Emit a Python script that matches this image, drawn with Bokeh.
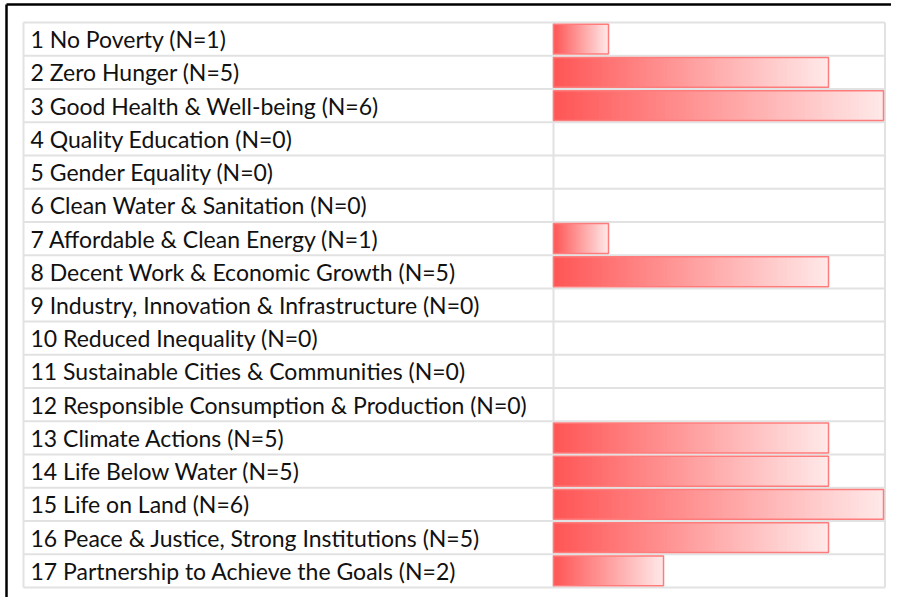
from bokeh.plotting import figure
from bokeh.models import Range1d
from bokeh.embed import file_html
from bokeh.resources import INLINE
from bokeh.core.properties import value

goals = [
    "1 No Poverty", "2 Zero Hunger", "3 Good Health & Well-being",
    "4 Quality Education", "5 Gender Equality", "6 Clean Water & Sanitation",
    "7 Affordable & Clean Energy", "8 Decent Work & Economic Growth",
    "9 Industry, Innovation & Infrastructure", "10 Reduced Inequality",
    "11 Sustainable Cities & Communities", "12 Responsible Consumption & Production",
    "13 Climate Actions", "14 Life Below Water", "15 Life on Land",
    "16 Peace & Justice, Strong Institutions", "17 Partnership to Achieve the Goals",
]
counts = [1, 5, 6, 0, 0, 0, 1, 5, 0, 0, 0, 0, 5, 5, 6, 5, 2]

W, H = 891, 597
OFF = 0
# pixel layout helpers
PX_PER_UNIT = 55.0
X0_PAGE = 553.0
ROW_TOP = 22.0
ROW_H = (587.0 - 22.0) / 17


def xv(page_x):
    return (page_x - X0_PAGE) / PX_PER_UNIT


def yv(page_y):
    return (page_y - ROW_TOP) / ROW_H


p = figure(width=W, height=H, output_backend="svg", toolbar_location=None,
           x_range=Range1d(xv(OFF), xv(OFF + W)), y_range=Range1d(yv(OFF + H), yv(OFF)),
           min_border=0)
p.axis.visible = False
p.grid.visible = False
p.outline_line_color = None
p.background_fill_color = "white"
p.border_fill_color = "white"

n = len(goals)
xl, xr = xv(23), xv(884.5)
grid_c = "#e2e2e2"
# horizontal grid lines
p.segment(x0=[xl] * (n + 1), x1=[xr] * (n + 1), y0=list(range(n + 1)), y1=list(range(n + 1)),
          line_color=grid_c, line_width=2)
# vertical lines
vx = [xl, 0, xr]
p.segment(x0=vx, x1=vx, y0=[0] * 3, y1=[n] * 3, line_color=grid_c, line_width=2)

# gradient bars (overlapping slices, each running to the bar end)
K = 80
c0 = (255, 86, 86)
c1 = (255, 232, 232)
L, R, T, B, C = [], [], [], [], []
pad = 0.05
for i, v in enumerate(counts):
    if v <= 0:
        continue
    for k in range(K):
        t = k / (K - 1)
        col = tuple(int(round(a + (b - a) * t)) for a, b in zip(c0, c1))
        L.append(v * k / K)
        R.append(v)
        T.append(i + pad)
        B.append(i + 1 - pad)
        C.append("#%02x%02x%02x" % col)
p.quad(left=L, right=R, top=T, bottom=B, fill_color=C, line_color=None)

bi = [i for i, v in enumerate(counts) if v > 0]
p.quad(left=[0] * len(bi), right=[counts[i] for i in bi],
       top=[i + pad for i in bi], bottom=[i + 1 - pad for i in bi],
       fill_color=None, line_color="#ff7c7c", line_width=1.5)

labels = [f"{g} (N={c})" for g, c in zip(goals, counts)]
p.text(x=[xv(30)] * n, y=[i + 0.5 for i in range(n)], text=labels,
       text_font=value("Lato"), text_font_size="23px", text_color="#111111",
       text_baseline="middle", text_align="left")

# black border at top and left (as segments)
ytop, ybot = yv(4), yv(OFF + H)
xleft, xend = xv(6), xv(OFF + W)
p.segment(x0=[xleft, xleft], x1=[xend, xleft], y0=[ytop, ytop], y1=[ytop, ybot],
          line_color="black", line_width=2.5)

open("out.html", "w").write(file_html(p, INLINE))
